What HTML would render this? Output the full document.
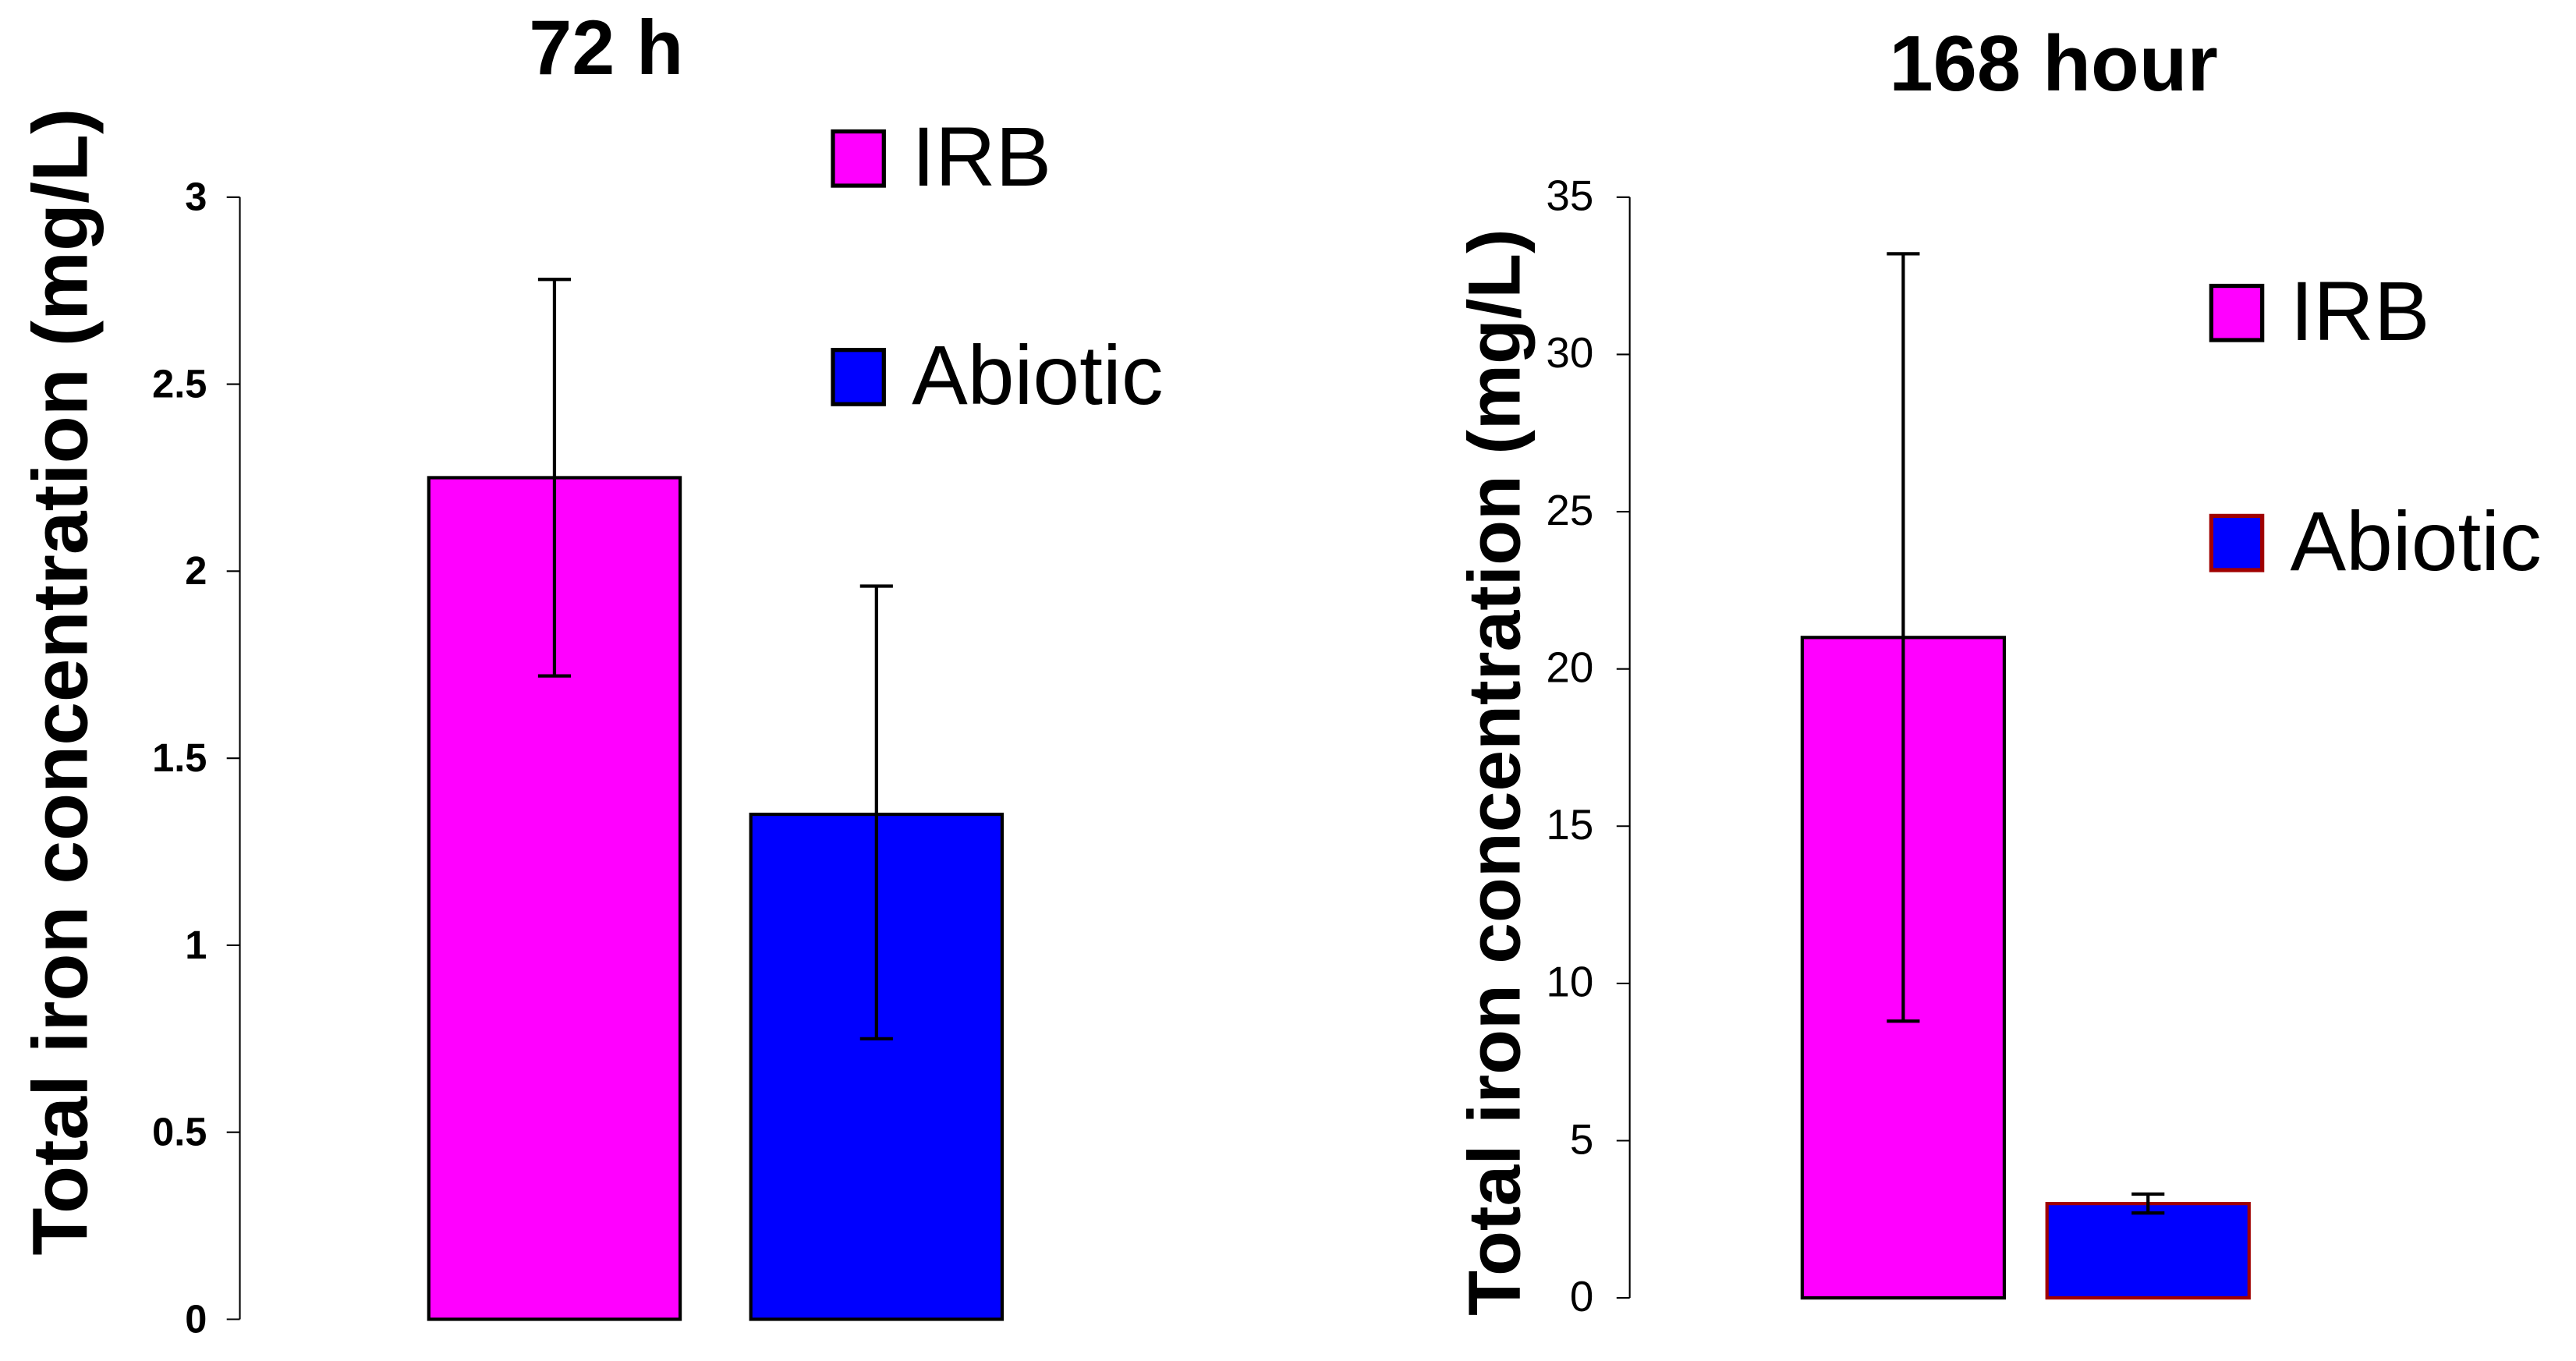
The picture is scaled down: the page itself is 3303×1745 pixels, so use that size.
<!DOCTYPE html>
<html><head><meta charset="utf-8"><style>
html,body{margin:0;padding:0;background:#fff;width:3303px;height:1745px;overflow:hidden}
svg{display:block;font-family:"Liberation Sans",Arial,sans-serif}
</style></head><body>
<svg id="svg" width="3303" height="1745" viewBox="0 0 1568 828.4" preserveAspectRatio="none" xmlns="http://www.w3.org/2000/svg"></svg>
<script>
const categories = ["IRB","Abiotic"];
const values72 = [2.25, 1.35];
const errLow72 = [1.72, 0.75];
const errHigh72 = [2.78, 1.96];
const ticks72 = ["0","0.5","1","1.5","2","2.5","3"];
const values168 = [21.0, 3.0];
const errLow168 = [8.8, 2.7];
const errHigh168 = [33.2, 3.3];
const ticks168 = ["0","5","10","15","20","25","30","35"];
const colors = ["#ff00ff","#0000ff"];

const NS="http://www.w3.org/2000/svg";
const svg=document.getElementById('svg');
function mk(tag,attrs,parent){const e=document.createElementNS(NS,tag);for(const k in attrs)e.setAttribute(k,attrs[k]);(parent||svg).appendChild(e);return e;}

function chart(cfg){
  const g=mk('g',{});
  
  
  const ymax=parseFloat(cfg.ticks[cfg.ticks.length-1]);
  const y=v=>cfg.y0-(v/ymax)*(cfg.y0-cfg.y1);
  const axis=mk('line',{x1:cfg.ax,x2:cfg.ax,y1:cfg.y1,y2:cfg.y0,stroke:'#000','stroke-width':1},g);
  
  
  cfg.ticks.forEach(t=>{
    const v=parseFloat(t);
    const tk=mk('line',{x1:cfg.ax-8,x2:cfg.ax,y1:y(v),y2:y(v),stroke:'#000','stroke-width':1},g);
    
    
    const tl=mk('text',{x:cfg.ax-cfg.lblOff,y:y(v)+8,'text-anchor':'end','font-size':cfg.tickSize,'font-weight':cfg.tickWeight},g);
    tl.textContent=t;
    
    
  });
  cfg.values.forEach((v,i)=>{
    const r=mk('rect',{x:cfg.bx[i],y:y(v),width:cfg.bw,height:y(0)-y(v),fill:colors[i],stroke:cfg.stroke[i],'stroke-width':2},g);
    
    
    const cx=cfg.bx[i]+cfg.bw/2;
    const eg=mk('g',{stroke:'#000','stroke-width':2},g);
    
    
    mk('line',{x1:cx,x2:cx,y1:y(cfg.lo[i]),y2:y(cfg.hi[i])},eg);
    mk('line',{x1:cx-10,x2:cx+10,y1:y(cfg.lo[i]),y2:y(cfg.lo[i])},eg);
    mk('line',{x1:cx-10,x2:cx+10,y1:y(cfg.hi[i]),y2:y(cfg.hi[i])},eg);
  });
  const tt=mk('text',{x:cfg.tx,y:cfg.ty,'text-anchor':'middle','font-size':cfg.titleSize,'font-weight':'bold'},g);
  tt.textContent=cfg.title;
  
  
  const yt=mk('text',{x:0,y:0,'text-anchor':'middle','font-size':cfg.ytSize,'font-weight':'bold',transform:`translate(${cfg.ytx},${cfg.yty}) rotate(-90)`},g);
  yt.textContent='Total iron concentration (mg/L)';
  
  
  categories.forEach((c,i)=>{
    const lg=mk('g',{},g);
    
    
    mk('rect',{x:cfg.lx,y:cfg.ly[i],width:31,height:33,fill:colors[i],stroke:(cfg.stroke[i]==='#000')?'#000':'#a00000','stroke-width':2.5},lg);
    const t=mk('text',{x:cfg.lx+48,y:cfg.ly[i]+33,'font-size':51},lg);
    t.textContent=c;
  });
}
chart({name:'chart-72h',ticks:ticks72,values:values72,lo:errLow72,hi:errHigh72,ax:146,y0:803,y1:120,lblOff:20,tickSize:24,tickWeight:'bold',
  bx:[261,457],bw:153,stroke:['#000','#000'],title:'72 h',titleSize:47,tx:369,ty:45,ytSize:47.5,ytx:53,yty:415,lx:507,ly:[80,213]});
chart({name:'chart-168h',ticks:ticks168,values:values168,lo:errLow168,hi:errHigh168,ax:992,y0:790,y1:120,lblOff:22,tickSize:26,tickWeight:'normal',
  bx:[1097,1246],bw:123,stroke:['#000','#a00000'],title:'168 hour',titleSize:48,tx:1250,ty:55,ytSize:45,ytx:925,yty:470,lx:1346,ly:[174,314]});
</script>
</body></html>
